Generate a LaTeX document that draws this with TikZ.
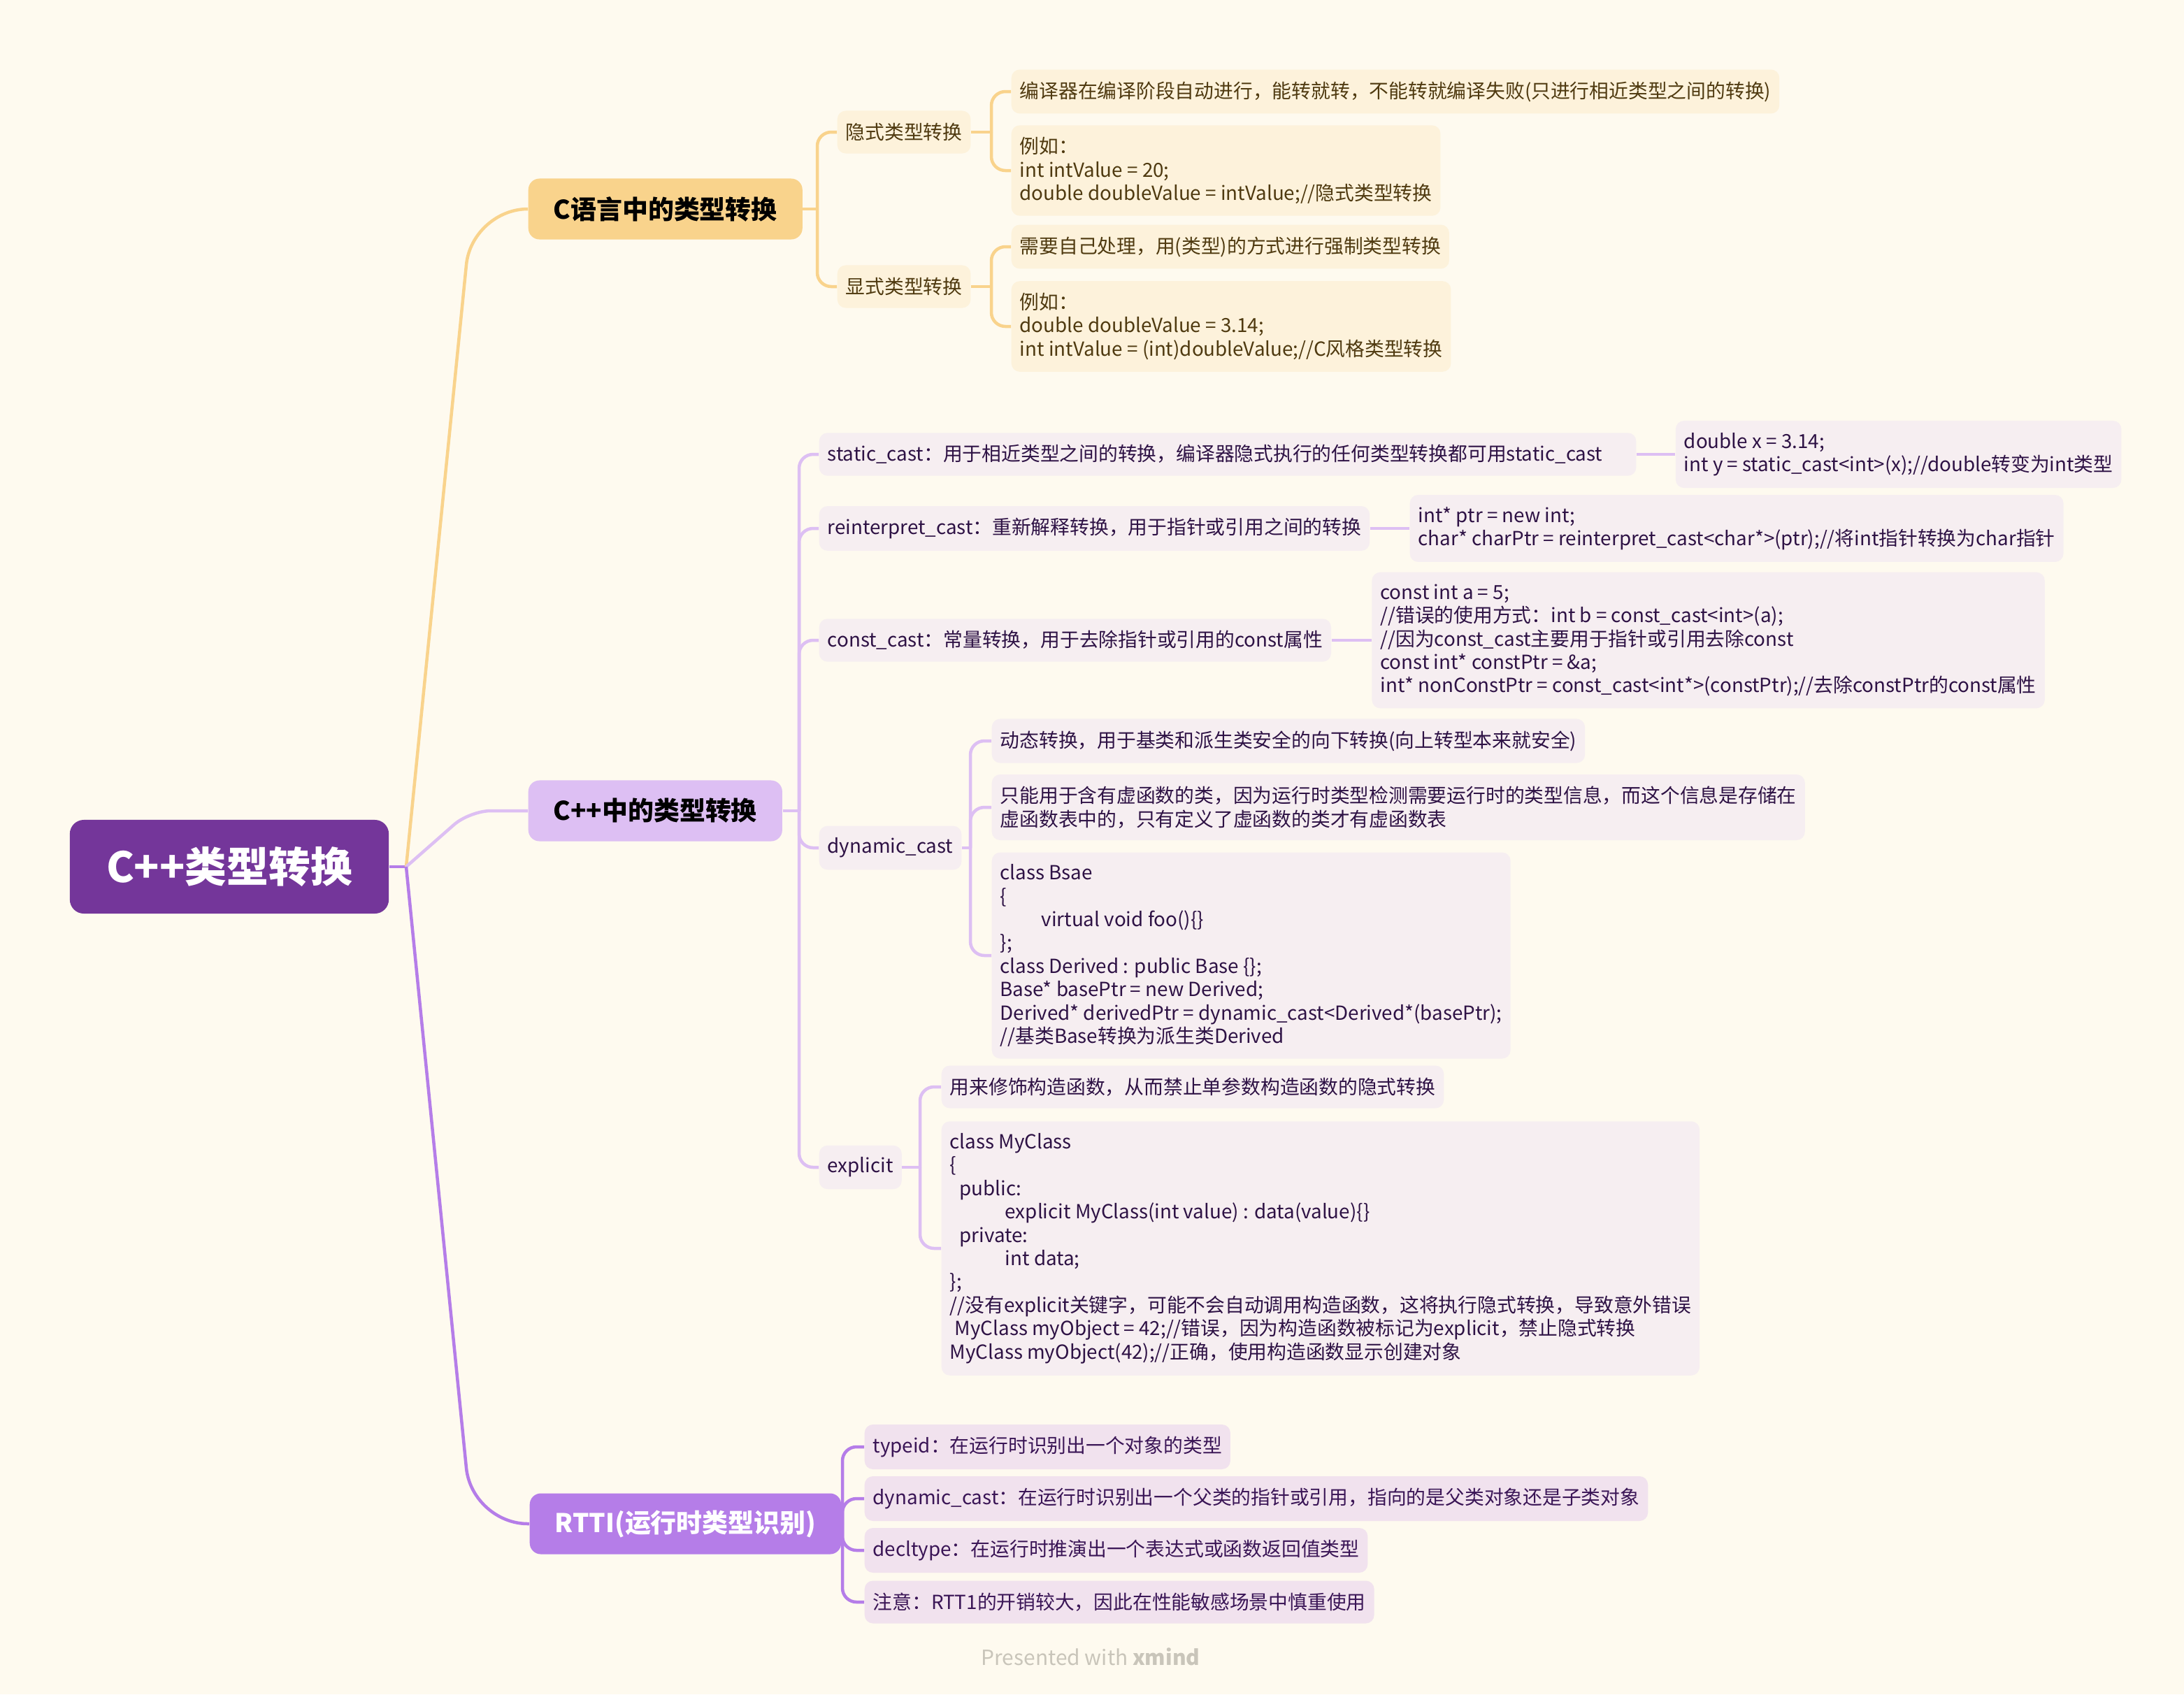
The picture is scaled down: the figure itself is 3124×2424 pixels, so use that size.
\documentclass[tikz,border=0pt]{standalone}
\usepackage{fontspec}
\setmainfont{Noto Sans CJK SC}
\usepackage{tikz}
\definecolor{paper}{HTML}{FEFAEF}
\definecolor{rootfill}{HTML}{74369A}
\definecolor{cfill}{HTML}{F9D38C}
\definecolor{cleaffill}{HTML}{FDF2DB}
\definecolor{ctext}{HTML}{4F3A10}
\definecolor{pfill}{HTML}{DDBFF3}
\definecolor{pleaffill}{HTML}{F6EEF1}
\definecolor{ptext}{HTML}{2E1245}
\definecolor{rfill}{HTML}{B57DE8}
\definecolor{rleaffill}{HTML}{F1E2EE}
\definecolor{rtext}{HTML}{3A1556}
\definecolor{credit}{HTML}{C9C5BA}

\begin{document}
\begin{tikzpicture}[x=0.01cm, y=-0.01cm,
    leaf/.style={rounded corners=0.12cm, inner xsep=0.12cm, inner ysep=0.17cm, minimum height=0.61cm, align=left, anchor=west, font=\fontsize{7.9}{9.5}\selectfont},
    cleaf/.style={leaf, fill=cleaffill, text=ctext},
    pleaf/.style={leaf, fill=pleaffill, text=ptext},
    rleaf/.style={leaf, fill=rleaffill, text=rtext},
    branch/.style={rounded corners=0.16cm, inner xsep=0.36cm, minimum height=0.87cm, anchor=west, font=\fontsize{10.5}{12}\selectfont\bfseries},
    link/.style={-, line width=0.045cm}]
    \def\cline{cfill}
    \def\pline{pfill}
    \def\rline{rfill}
    \def\bend{0.2cm}

    \fill[paper] (0,0) rectangle (3124,2424);

    \node[fill=rootfill, text=white, rounded corners=0.2cm, minimum width=4.56cm, minimum height=1.34cm, font=\fontsize{17}{20}\selectfont\bfseries] (root) at (328,1240) {C++类型转换};
    \node[branch, fill=cfill] (cbr) at (755,299) {C语言中的类型转换};
    \node[branch, fill=pfill] (cppbr) at (755,1160) {C++中的类型转换};
    \node[branch, fill=rfill, text=white] (rttibr) at (757,2180) {RTTI(运行时类型识别)};

    \coordinate (j0) at (581,1240);
    \draw[link, \rline] (root.east) -- (j0);
    \draw[link, \cline, rounded corners=0.8cm] (j0) -- (675,299) -- (cbr.west);
    \draw[link, \pline, rounded corners=0.3cm] (j0) -- (672,1160) -- (cppbr.west);
    \draw[link, \rline, rounded corners=0.8cm] (j0) -- (675,2180) -- (rttibr.west);

    \node[cleaf] (yin) at (1197,189) {隐式类型转换};
    \node[cleaf] (xian) at (1197,410) {显式类型转换};
    \node[cleaf] (yin1) at (1446,131) {编译器在编译阶段自动进行，能转就转，不能转就编译失败(只进行相近类型之间的转换)};
    \node[cleaf] (yin2) at (1446,244) {例如：\\int intValue = 20;\\double doubleValue = intValue;//隐式类型转换};
    \node[cleaf] (xian1) at (1446,353) {需要自己处理，用(类型)的方式进行强制类型转换};
    \node[cleaf] (xian2) at (1446,467) {例如：\\double doubleValue = 3.14;\\int intValue = (int)doubleValue;//C风格类型转换};

    \coordinate (jc) at (1169,299);
    \coordinate (jyin) at (1418,189);
    \coordinate (jxian) at (1418,410);
    \draw[link, \cline] (cbr.east) -- (jc);
    \draw[link, \cline] (yin.east) -- (jyin);
    \draw[link, \cline] (xian.east) -- (jxian);
    \foreach \n in {yin,xian} {
        \draw[link, \cline, rounded corners=\bend] (jc) |- (\n.west);
        \draw[link, \cline, rounded corners=\bend] (j\n) |- (\n1.west);
        \draw[link, \cline, rounded corners=\bend] (j\n) |- (\n2.west);
    }

    \node[pleaf] (sc) at (1171,650) {static\_cast：用于相近类型之间的转换，编译器隐式执行的任何类型转换都可用static\_cast\hspace*{0.36cm}};
    \node[pleaf, xshift=0.55cm] (sccode) at (sc.east) {double x = 3.14;\\int y = static\_cast<int>(x);//double转变为int类型};
    \node[pleaf] (rc) at (1171,756) {reinterpret\_cast：重新解释转换，用于指针或引用之间的转换};
    \node[pleaf, xshift=0.56cm] (rccode) at (rc.east) {int* ptr = new int;\\char* charPtr = reinterpret\_cast<char*>(ptr);//将int指针转换为char指针};
    \node[pleaf] (cc) at (1171,916) {const\_cast：常量转换，用于去除指针或引用的const属性};
    \node[pleaf, xshift=0.57cm] (cccode) at (cc.east) {const int a = 5;\\//错误的使用方式：int b = const\_cast<int>(a);\\//因为const\_cast主要用于指针或引用去除const\\const int* constPtr = \&a;\\int* nonConstPtr = const\_cast<int*>(constPtr);//去除constPtr的const属性};
    \node[pleaf] (dc) at (1171,1213) {dynamic\_cast};
    \node[pleaf] (dc1) at (1418,1060) {动态转换，用于基类和派生类安全的向下转换(向上转型本来就安全)};
    \node[pleaf] (dc2) at (1418,1155) {只能用于含有虚函数的类，因为运行时类型检测需要运行时的类型信息，而这个信息是存储在\\虚函数表中的，只有定义了虚函数的类才有虚函数表};
    \node[pleaf] (dc3) at (1418,1367) {class Bsae\\\{\\\hspace*{0.59cm}virtual void foo()\{\}\\\};\\class Derived : public Base \{\};\\Base* basePtr = new Derived;\\Derived* derivedPtr = dynamic\_cast<Derived*(basePtr);\\//基类Base转换为派生类Derived};
    \node[pleaf] (ex) at (1171,1670) {explicit};
    \node[pleaf] (ex1) at (1346,1555) {用来修饰构造函数，从而禁止单参数构造函数的隐式转换};
    \node[pleaf] (ex2) at (1346,1786) {class MyClass\\\{\\\hspace*{0.14cm}public:\\\hspace*{0.79cm}explicit MyClass(int value) : data(value)\{\}\\\hspace*{0.14cm}private:\\\hspace*{0.79cm}int data;\\\};\\//没有explicit关键字，可能不会自动调用构造函数，这将执行隐式转换，导致意外错误\\\hspace*{0.07cm}MyClass myObject = 42;//错误，因为构造函数被标记为explicit，禁止隐式转换\\MyClass myObject(42);//正确，使用构造函数显示创建对象};

    \coordinate (jp) at (1143,1160);
    \coordinate (jdc) at (1388,1213);
    \coordinate (jex) at (1316,1670);
    \draw[link, \pline] (cppbr.east) -- (jp);
    \foreach \n in {sc,rc,cc,dc,ex}
        \draw[link, \pline, rounded corners=\bend] (jp) |- (\n.west);
    \foreach \n in {sc,rc,cc}
        \draw[link, \pline] (\n.east) -- (\n code.west);
    \draw[link, \pline] (dc.east) -- (jdc);
    \draw[link, \pline] (ex.east) -- (jex);
    \foreach \i in {1,2,3}
        \draw[link, \pline, rounded corners=\bend] (jdc) |- (dc\i.west);
    \foreach \i in {1,2}
        \draw[link, \pline, rounded corners=\bend] (jex) |- (ex\i.west);

    \coordinate (jr) at (1205,2180);
    \draw[link, \rline] (rttibr.east) -- (jr);
    \foreach \i/\y/\txt in {1/2070/{typeid：在运行时识别出一个对象的类型},
                            2/2144/{dynamic\_cast：在运行时识别出一个父类的指针或引用，指向的是父类对象还是子类对象},
                            3/2218/{decltype：在运行时推演出一个表达式或函数返回值类型},
                            4/2292/{注意：RTT1的开销较大，因此在性能敏感场景中慎重使用}} {
        \node[rleaf] (r\i) at (1236,\y) {\txt};
        \draw[link, \rline, rounded corners=\bend] (jr) |- (r\i.west);
    }

    \node[text=credit, font=\fontsize{8.5}{10}\selectfont] (credit) at (1560,2370) {Presented with \textbf{xmind}};
\end{tikzpicture}
\end{document}
